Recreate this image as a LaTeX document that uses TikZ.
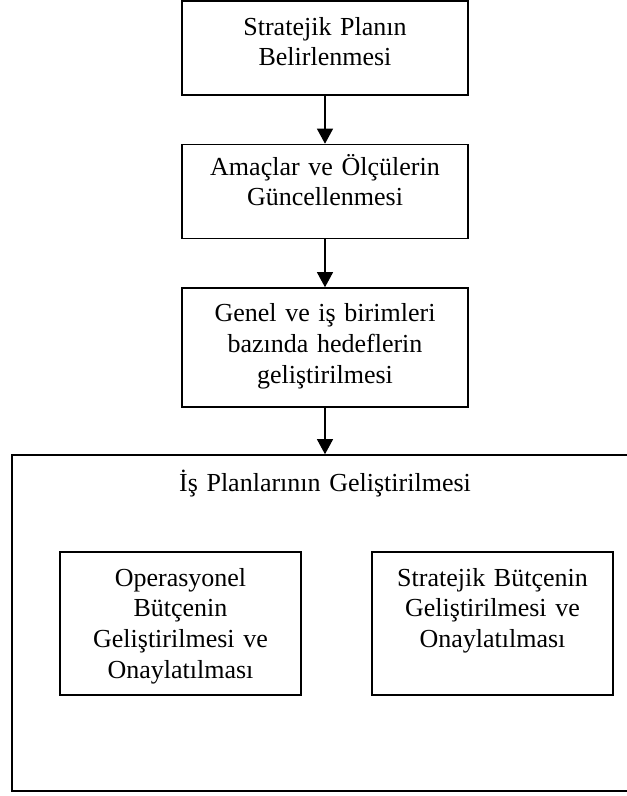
\documentclass[tikz,border=0pt]{standalone}
\usepackage{fontspec}
\setmainfont{Liberation Serif}
\usetikzlibrary{arrows.meta}

\begin{document}
\begin{tikzpicture}[x=1pt, y=-1pt,
    box/.style={draw=black, line width=1.6pt, inner sep=0pt},
    txt/.style={anchor=base, align=center, text width=#1, inner sep=0pt, font=\fontsize{26}{30.8}\selectfont},
    txt/.default=280pt,
    flow/.style={-{Triangle[length=15pt,width=16pt]}, line width=1.2pt}]
    \clip (0,0) rectangle (627,796);
    \node[box, minimum width=286pt, minimum height=94pt] (plan) at (325,48) {};
    \node[box, minimum width=286pt, minimum height=94pt] (goals) at (325,191.5) {};
    \node[box, minimum width=286pt, minimum height=119pt] (targets) at (325,347.5) {};
    \node[box, minimum width=620pt, minimum height=336pt] (workplan) at (322,623) {};
    \node[box, minimum width=241pt, minimum height=143pt] (opbudget) at (180.5,623.5) {};
    \node[box, minimum width=241pt, minimum height=143pt] (stbudget) at (492.5,623.5) {};
    \node[txt] (plan-text) at (325,35) {Stratejik Planın\\Belirlenmesi};
    \node[txt] (goals-text) at (325,175) {Amaçlar ve Ölçülerin\\Güncellenmesi};
    \node[txt] (targets-text) at (325,321.5) {Genel ve iş birimleri\\bazında hedeflerin\\geliştirilmesi};
    \node[txt=500pt] (workplan-text) at (325,491) {İş Planlarının Geliştirilmesi};
    \node[txt=230pt] (opbudget-text) at (180.5,586) {Operasyonel\\Bütçenin\\Geliştirilmesi ve\\Onaylatılması};
    \node[txt=230pt] (stbudget-text) at (492.5,586) {Stratejik Bütçenin\\Geliştirilmesi ve\\Onaylatılması};
    \draw[flow] (plan) -- (goals);
    \draw[flow] (goals) -- (targets);
    \draw[flow] (targets.south) -- (targets.south |- workplan.north);
\end{tikzpicture}
\end{document}
